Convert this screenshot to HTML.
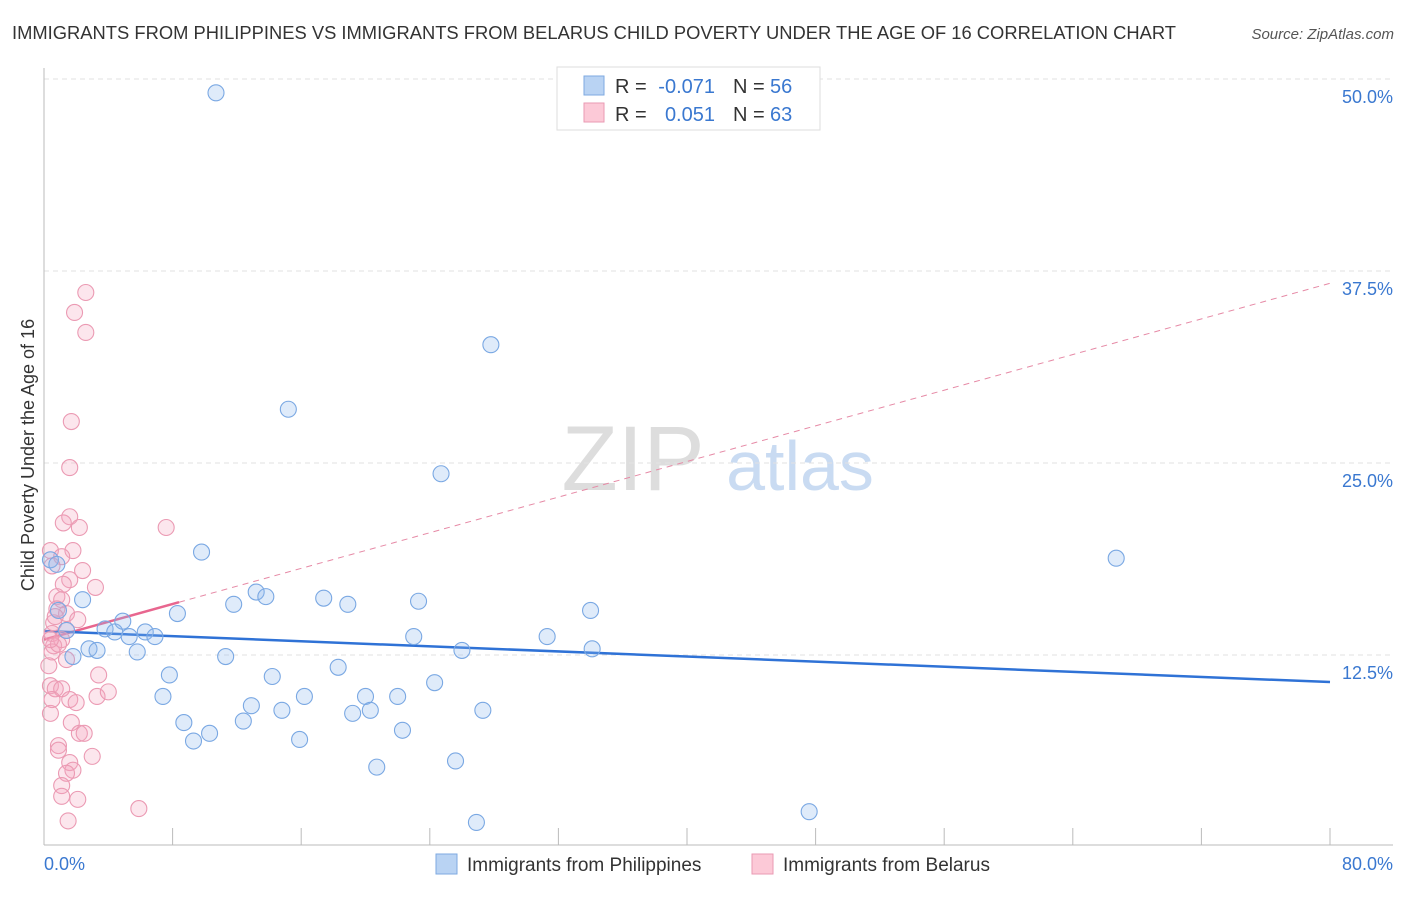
<!DOCTYPE html>
<html><head><meta charset="utf-8"><style>
body{margin:0;background:#fff;font-family:"Liberation Sans",sans-serif;}
svg text{font-family:"Liberation Sans",sans-serif;}
</style></head><body>
<svg id="chart" width="1406" height="892">
<text x="12" y="39" font-size="18" fill="#333" textLength="1164" lengthAdjust="spacingAndGlyphs">IMMIGRANTS FROM PHILIPPINES VS IMMIGRANTS FROM BELARUS CHILD POVERTY UNDER THE AGE OF 16 CORRELATION CHART</text>
<text x="1394" y="39" font-size="15" fill="#555" text-anchor="end" font-style="italic">Source: ZipAtlas.com</text>
<text x="633" y="490" font-size="92" fill="#ddd" font-family="Liberation Serif" text-anchor="middle">ZIP</text>
<text x="800" y="490" font-size="70" fill="#c9dbf2" text-anchor="middle">atlas</text>
<text transform="translate(34,455) rotate(-90)" font-size="18" fill="#333" text-anchor="middle">Child Poverty Under the Age of 16</text>
<g id="grid"></g><g id="trend"></g><g id="pts"></g>
<g>
<rect x="557" y="67" width="263" height="63" fill="#fff" stroke="#ddd"/>
<rect x="584" y="76" width="20" height="19" fill="#b9d3f3" stroke="#7ea9e0"/>
<rect x="584" y="103" width="20" height="19" fill="#fcc9d7" stroke="#ea9ab3"/>
<text x="615" y="93" font-size="20" fill="#333">R =</text>
<text x="715" y="93" font-size="20" fill="#3a78d0" text-anchor="end">-0.071</text>
<text x="733" y="93" font-size="20" fill="#333">N =</text>
<text x="770" y="93" font-size="20" fill="#3a78d0">56</text>
<text x="615" y="121" font-size="20" fill="#333">R =</text>
<text x="715" y="121" font-size="20" fill="#3a78d0" text-anchor="end">0.051</text>
<text x="733" y="121" font-size="20" fill="#333">N =</text>
<text x="770" y="121" font-size="20" fill="#3a78d0">63</text>
</g>
<g>
<rect x="436" y="854" width="21" height="20" fill="#b9d3f3" stroke="#7ea9e0"/>
<text x="467" y="871" font-size="19" fill="#333">Immigrants from Philippines</text>
<rect x="752" y="854" width="21" height="20" fill="#fcc9d7" stroke="#ea9ab3"/>
<text x="783" y="871" font-size="19" fill="#333">Immigrants from Belarus</text>
</g>
</svg>
<script>
const yTicks=[12.5,25.0,37.5,50.0];
const xTickLabels=["0.0%","80.0%"];
const blueX=[10.7,27.8,15.2,24.7,66.7,9.8,8.3,0.4,0.8,0.9,2.4,1.4,3.8,4.4,4.9,5.3,6.3,6.9,2.8,3.3,1.8,5.8,13.2,13.8,11.8,17.4,18.9,23.3,34.0,23.0,31.3,26.0,34.1,11.3,18.3,7.8,14.2,24.3,7.4,16.2,20.0,22.0,12.9,14.8,19.2,20.3,27.3,8.7,12.4,10.3,9.3,15.9,22.3,25.6,20.7,47.6,26.9];
const blueY=[49.1,32.7,28.5,24.3,18.8,19.2,15.2,18.7,18.4,15.4,16.1,14.1,14.2,14.0,14.7,13.7,14.0,13.7,12.9,12.8,12.4,12.7,16.6,16.3,15.8,16.2,15.8,16.0,15.4,13.7,13.7,12.8,12.9,12.4,11.7,11.2,11.1,10.7,9.8,9.8,9.8,9.8,9.2,8.9,8.7,8.9,8.9,8.1,8.2,7.4,6.9,7.0,7.6,5.6,5.2,2.3,1.6];
const pinkX=[2.6,1.9,2.6,1.7,1.6,7.6,1.6,1.2,2.2,1.8,0.4,1.1,0.5,2.4,1.6,1.2,3.2,0.8,1.1,0.8,1.4,2.1,0.6,1.4,0.5,1.1,0.6,0.5,1.4,0.3,3.4,0.4,0.7,1.1,3.3,4.0,0.5,1.6,2.0,0.4,1.7,2.2,2.5,0.9,0.9,3.0,1.6,1.8,1.4,1.1,1.1,2.1,5.9,1.5,0.7,0.9,0.4];
const pinkY=[36.1,34.8,33.5,27.7,24.7,20.8,21.5,21.1,20.8,19.3,19.3,18.9,18.3,18.0,17.4,17.1,16.9,16.3,16.1,15.5,15.2,14.8,14.6,14.1,13.9,13.5,13.1,12.7,12.2,11.8,11.2,10.5,10.3,10.3,9.8,10.1,9.6,9.6,9.4,8.7,8.1,7.4,7.4,6.6,6.3,5.9,5.5,5.0,4.8,4.0,3.3,3.1,2.5,1.7,15.0,13.2,13.5];
const blueTrend=[14.06,10.74];
const pinkTrend=[13.5,36.7];
const pinkSolidEnd=8.4;
const X=v=>44+v/80*1286, Y=v=>847-v*15.36;
const NS="http://www.w3.org/2000/svg";
function mk(tag,parent,attrs){const e=document.createElementNS(NS,tag);for(const k in attrs)e.setAttribute(k,attrs[k]);parent.appendChild(e);return e;}
const grid=document.getElementById('grid');
yTicks.forEach(t=>{
 const l=mk('line',grid,{x1:44,x2:1393,y1:Y(t),y2:Y(t),stroke:'#e2e2e2','stroke-dasharray':'5,4'});
 
 
 const tx=mk('text',grid,{x:1393,y:Y(t)+24,'font-size':18,fill:'#3a78d0','text-anchor':'end'});
 tx.textContent=t.toFixed(1)+'%';
 
 
});
const ax=mk('line',grid,{x1:44,x2:1393,y1:845,y2:845,stroke:'#bbb'});


const ay=mk('line',grid,{x1:44,x2:44,y1:68,y2:845,stroke:'#bbb'});


for(let i=1;i<=10;i++){const tk=mk('line',grid,{x1:X(i*8),x2:X(i*8),y1:828,y2:845,stroke:'#bbb'});
 
 }
const xl0=mk('text',grid,{x:44,y:870,'font-size':18,fill:'#3a78d0'});xl0.textContent=xTickLabels[0];


const xl1=mk('text',grid,{x:1393,y:870,'font-size':18,fill:'#3a78d0','text-anchor':'end'});xl1.textContent=xTickLabels[1];


const pts=document.getElementById('pts');
function dots(xs,ys,fill,stroke,name){xs.forEach((x,i)=>{const c=mk('circle',pts,{cx:X(x),cy:Y(ys[i]),r:8,fill:fill,stroke:stroke,'stroke-width':1.1});
 
 });}
dots(pinkX,pinkY,'rgba(245,165,190,0.28)','#eb9ab3','belarus-point');
dots(blueX,blueY,'rgba(140,182,238,0.28)','#7aa8e3','philippines-point');
const tr=document.getElementById('trend');
const pAt=v=>pinkTrend[0]+(pinkTrend[1]-pinkTrend[0])*v/80;
const pd=mk('line',tr,{x1:X(pinkSolidEnd),y1:Y(pAt(pinkSolidEnd)),x2:X(80),y2:Y(pinkTrend[1]),stroke:'#e68aa6','stroke-width':1,'stroke-dasharray':'6,5'});


const ps=mk('line',tr,{x1:X(0),y1:Y(pinkTrend[0]),x2:X(pinkSolidEnd),y2:Y(pAt(pinkSolidEnd)),stroke:'#e8668f','stroke-width':2.5});


const bt=mk('line',tr,{x1:X(0),y1:Y(blueTrend[0]),x2:X(80),y2:Y(blueTrend[1]),stroke:'#2f72d6','stroke-width':2.5});


</script>
</body></html>
